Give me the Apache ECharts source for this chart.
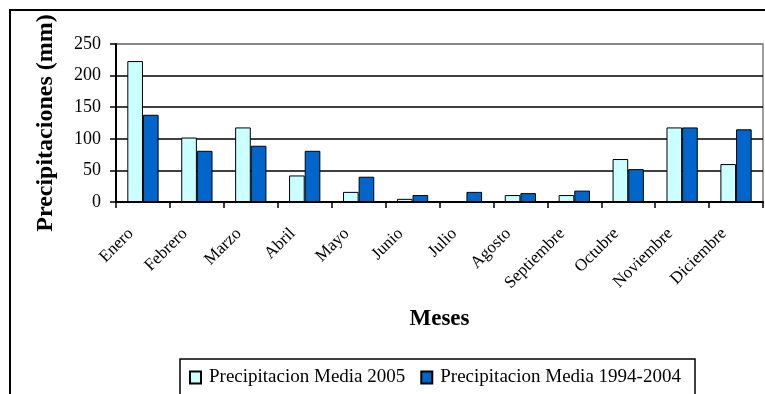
<!DOCTYPE html>
<html>
<head>
<meta charset="utf-8">
<script src="https://cdn.jsdelivr.net/npm/echarts@6/dist/echarts.min.js"></script>
<style>
  html, body { margin: 0; padding: 0; background: #fff; }
  #chart { width: 765px; height: 394px; }
</style>
</head>
<body>
<div id="chart"></div>
<script>
// Monthly precipitation (mm)
const meses = ['Enero', 'Febrero', 'Marzo', 'Abril', 'Mayo', 'Junio', 'Julio',
  'Agosto', 'Septiembre', 'Octubre', 'Noviembre', 'Diciembre'];
const precip2005 = [223, 102, 118, 42, 16, 5, 0, 11, 11, 68, 118, 60];
const precip1994_2004 = [138, 81, 89, 81, 40, 11, 16, 14, 18, 52, 118, 115];
const yTicks = [0, 50, 100, 150, 200, 250];
const serieNames = ['Precipitacion Media 2005', 'Precipitacion Media 1994-2004'];

const serif = '"Liberation Serif", "Times New Roman", serif';
const chart = echarts.init(document.getElementById('chart'), null, { renderer: 'canvas' });

chart.setOption({
  backgroundColor: '#fff',
  animation: false,
  textStyle: { fontFamily: serif, color: '#000' },
  graphic: [
    // outer chart frame
    { type: 'rect', z: 0, shape: { x: 10, y: 10, width: 820, height: 420 },
      style: { fill: null, stroke: '#000', lineWidth: 2 } },
    // legend frame
    { type: 'rect', z: 0, shape: { x: 180, y: 359, width: 515, height: 60 },
      style: { fill: null, stroke: '#000', lineWidth: 1.5 } }
  ],
  legend: {
    data: serieNames,
    left: 189,
    top: 368,
    padding: 0,
    itemGap: 15,
    itemWidth: 11,
    itemHeight: 12,
    icon: 'rect',
    textStyle: { fontFamily: serif, fontSize: 19, color: '#000', padding: [0, 0, 0, 3] }
  },
  grid: {
    left: 116, right: 2, top: 44, bottom: 192,
    show: true, borderColor: '#808080', borderWidth: 1.5
  },
  xAxis: {
    type: 'category',
    data: meses,
    name: 'Meses',
    nameLocation: 'middle',
    nameGap: 106,
    nameTextStyle: { fontFamily: serif, fontSize: 23, fontWeight: 'bold', color: '#000' },
    axisLine: { lineStyle: { color: '#000', width: 2 } },
    axisTick: { show: true, length: 6, lineStyle: { color: '#000', width: 1.5 } },
    axisLabel: { rotate: 45, fontSize: 17, fontFamily: serif, color: '#000', margin: 17,
      padding: [0, 17, 0, 0] }
  },
  yAxis: {
    type: 'value',
    min: yTicks[0],
    max: yTicks[yTicks.length - 1],
    interval: 50,
    name: 'Precipitaciones (mm)',
    nameLocation: 'middle',
    nameGap: 58,
    nameTextStyle: { fontFamily: serif, fontSize: 24, fontWeight: 'bold', color: '#000' },
    axisLine: { show: true, lineStyle: { color: '#000', width: 2 } },
    axisTick: { show: true, length: 6, lineStyle: { color: '#000', width: 1.5 } },
    axisLabel: { fontSize: 18, fontFamily: serif, color: '#000', margin: 15 },
    splitLine: { lineStyle: { color: ['#000', '#000', '#000', '#000', '#000', '#808080'], width: 1.5 } }
  },
  series: [
    {
      name: serieNames[0],
      type: 'bar',
      data: precip2005,
      barGap: '0%',
      barCategoryGap: '42%',
      itemStyle: { color: '#CCFFFF', borderColor: '#000', borderWidth: 1 }
    },
    {
      name: serieNames[1],
      type: 'bar',
      data: precip1994_2004,
      barGap: '0%',
      barCategoryGap: '42%',
      itemStyle: { color: '#0066CC', borderColor: '#000', borderWidth: 1 }
    }
  ]
});
</script>
</body>
</html>
